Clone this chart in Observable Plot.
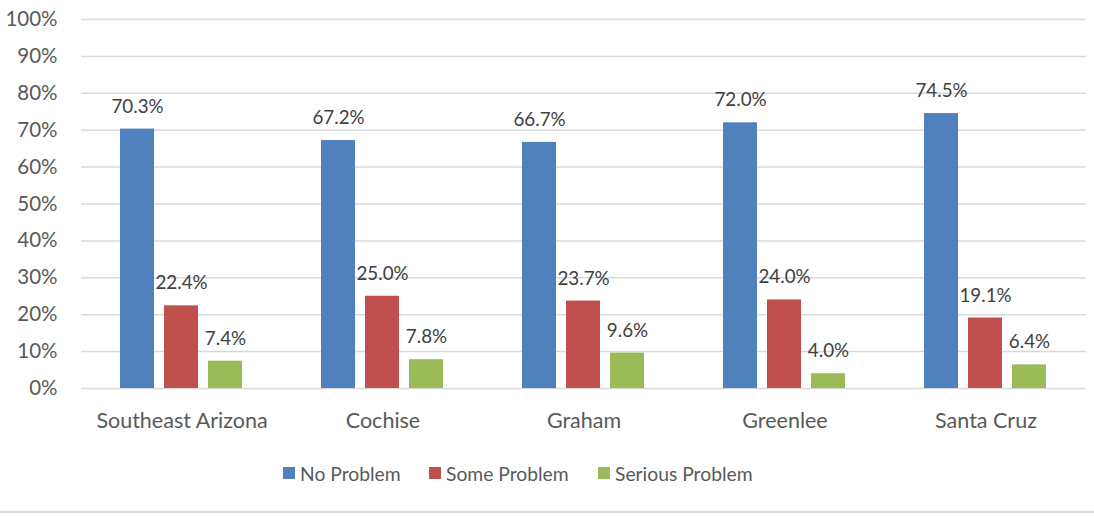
<!DOCTYPE html>
<html>
<head>
<meta charset="utf-8">
<script src="https://cdn.jsdelivr.net/npm/d3@7"></script>
<script src="https://cdn.jsdelivr.net/npm/@observablehq/plot@0.6"></script>
<style>
  html, body { margin: 0; padding: 0; background: #fff; }
  #wrap { position: relative; width: 1094px; height: 516px; font-family: Lato, "Open Sans", sans-serif; color: #595959; }
  #legend { position: absolute; left: 0; top: 461px; width: 1094px; height: 24px; }
  .item { position: absolute; top: 0; display: flex; align-items: center; height: 24px; font-size: 19.3px; }
  .sw { width: 12px; height: 12px; margin-right: 5px; }
  #bottomline { position: absolute; left: 0; top: 511px; width: 1094px; height: 2px; background: #d9d9d9; }
</style>
</head>
<body>
<div id="wrap">
  <div id="chart"></div>
  <div id="legend"></div>
  <div id="bottomline"></div>
</div>
<script>
const categories = ["Southeast Arizona", "Cochise", "Graham", "Greenlee", "Santa Cruz"];
const seriesNames = ["No Problem", "Some Problem", "Serious Problem"];
const seriesColors = ["#4f81bd", "#c0504d", "#9bbb59"];
const noProblem = [70.3, 67.2, 66.7, 72.0, 74.5];
const someProblem = [22.4, 25.0, 23.7, 24.0, 19.1];
const seriousProblem = [7.4, 7.8, 9.6, 4.0, 6.4];
const yTicks = [0, 10, 20, 30, 40, 50, 60, 70, 80, 90, 100];

const seriesValues = [noProblem, someProblem, seriousProblem];
const data = [];
categories.forEach((c, i) => {
  seriesNames.forEach((s, j) => {
    data.push({category: c, series: s, value: seriesValues[j][i]});
  });
});

const chart = Plot.plot({
  width: 1094,
  height: 445,
  marginTop: 19,
  marginBottom: 57,
  marginLeft: 81,
  marginRight: 8,
  style: {fontFamily: "Lato, 'Open Sans', sans-serif", color: "#595959", background: "#fff"},
  fx: {domain: categories, padding: 0, label: null, axis: null},
  x: {domain: seriesNames, paddingInner: 0.225, paddingOuter: 0.87, axis: null},
  y: {domain: [0, 100], ticks: yTicks, label: null},
  color: {domain: seriesNames, range: seriesColors},
  marks: [
    Plot.gridY(yTicks, {stroke: "#d9d9d9", strokeOpacity: 1, strokeWidth: 1.5}),
    Plot.axisY(yTicks, {tickSize: 0, tickPadding: 24, fontSize: 20.5, fill: "#595959", tickFormat: d => d + "%", label: null}),
    Plot.axisFx({anchor: "bottom", tickSize: 0, tickPadding: 24, fontSize: 21.5, fill: "#595959", label: null}),
    Plot.barY(data, {fx: "category", x: "series", y: "value", fill: "series"}),
    Plot.text(data, {fx: "category", x: "series", y: "value", text: d => d.value.toFixed(1) + "%", lineAnchor: "bottom", dy: -16.5, fontSize: 18.8, fill: "#404040"})
  ]
});
document.getElementById("chart").appendChild(chart);

const legend = document.getElementById("legend");
const legendLeft = [283, 429, 598];
seriesNames.forEach((s, j) => {
  const item = document.createElement("div");
  item.className = "item";
  item.style.left = legendLeft[j] + "px";
  const sw = document.createElement("span");
  sw.className = "sw";
  sw.style.background = seriesColors[j];
  const t = document.createElement("span");
  t.textContent = s;
  item.appendChild(sw);
  item.appendChild(t);
  legend.appendChild(item);
});
</script>
</body>
</html>
